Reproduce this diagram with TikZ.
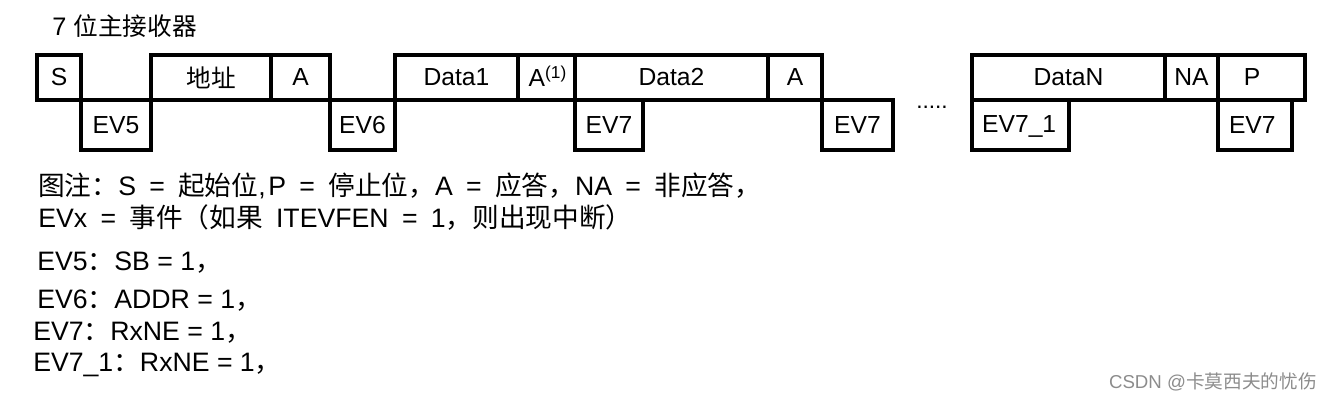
\documentclass[tikz,border=0pt]{standalone}
\usepackage{fontspec}
\setmainfont{Liberation Sans}
\newfontfamily\cjk{Noto Sans CJK SC}
\usetikzlibrary{fit}
\newcommand\widesp{\spaceskip=10pt\relax}
\begin{document}
\begin{tikzpicture}[x=0.75pt,y=-0.75pt,
  bx/.style={draw=black,line width=2.3pt,inner sep=0pt},
  bt/.style={inner sep=0pt,font=\fontsize{18.5}{20}\selectfont},
  lg/.style={anchor=base west,inner sep=0pt,font=\fontsize{20}{22}\selectfont},
  lg2/.style={anchor=base west,inner sep=0pt,font=\fontsize{20}{22}\selectfont}]
\useasboundingbox (0,0) rectangle (1332,402);
\node[anchor=base west,inner sep=0pt,font=\fontsize{19}{20}\selectfont] (title) at (52,36) {7 {\cjk\fontsize{18.5}{20}\selectfont 位主接收器}};
% upper row
\node[bx,fit={(37,55)(81,100)}] (s) {};
\node[bx,fit={(151,55)(271,100)}] (addr) {};
\node[bx,fit={(271,55)(330,100)}] (a1) {};
\node[bx,fit={(395,55)(518,100)}] (d1) {};
\node[bx,fit={(518,55)(575,100)}] (a2) {};
\node[bx,fit={(575,55)(768,100)}] (d2) {};
\node[bx,fit={(768,55)(822,100)}] (a3) {};
\node[bx,fit={(972,55)(1165,100)}] (dn) {};
\node[bx,fit={(1165,55)(1218,100)}] (na) {};
\node[bx,fit={(1218,55)(1305,100)}] (p) {};
% lower row
\node[bx,fit={(81,100)(151,150)}] (ev5) {};
\node[bx,fit={(330,100)(395,150)}] (ev6) {};
\node[bx,fit={(575,100)(643,150)}] (ev7a) {};
\node[bx,fit={(822,100)(893,150)}] (ev7b) {};
\node[bx,fit={(972,100)(1069,150)}] (ev71) {};
\node[bx,fit={(1218,100)(1292,150)}] (ev7c) {};
% box texts
\node[bt] (ts) at (s.center) {S};
\node[bt] (taddr) at (addr.center) {\cjk 地址};
\node[bt] (ta1) at (a1.center) {A};
\node[bt] (td1) at (d1.center) {Data1};
\node[bt,xshift=1pt,yshift=1pt] (ta2) at (a2.center) {A\textsuperscript{(1)}};
\node[bt] (td2) at (d2.center) {Data2};
\node[bt] (ta3) at (a3.center) {A};
\node[bt] (tdn) at (dn.center) {DataN};
\node[bt] (tna) at (na.center) {NA};
\node[bt,xshift=-7pt] (tp) at (p.center) {P};
\node[bt] (tev5) at (ev5.center) {EV5};
\node[bt] (tev6) at (ev6.center) {EV6};
\node[bt] (tev7a) at (ev7a.center) {EV7};
\node[bt] (tev7b) at (ev7b.center) {EV7};
\node[bt,xshift=-1pt,yshift=-1pt] (tev71) at (ev71.center) {EV7\_1};
\node[bt,xshift=-2pt] (tev7c) at (ev7c.center) {EV7};
\node[inner sep=0pt,font=\fontsize{17}{18}\selectfont] (dots) at (932,107) {.....};
% legend
\node[lg] (l1) at (38,196) {\widesp{\cjk 图注：}S = {\cjk 起始位},\kern2pt P = {\cjk 停止位，}A = {\cjk 应答，}NA = {\cjk 非应答，}};
\node[lg] (l2) at (38,228) {\widesp EVx = {\cjk 事件（如果 }ITEVFEN = 1{\cjk ，则出现中断）}};
\node[lg2] (l3) at (37,271) {EV5{\cjk ：}SB = 1{\cjk ，}};
\node[lg2] (l4) at (37,309) {EV6{\cjk ：}ADDR = 1{\cjk ，}};
\node[lg2] (l5) at (33,341) {EV7{\cjk ：}RxNE = 1{\cjk ，}};
\node[lg2] (l6) at (33,372) {EV7\_1{\cjk ：}RxNE = 1{\cjk ，}};
\node[anchor=base east,inner sep=0pt,text=black!45,font=\fontsize{14}{16}\selectfont] (wm) at (1317,389) {CSDN @{\cjk 卡莫西夫的忧伤}};
\end{tikzpicture}
\end{document}
